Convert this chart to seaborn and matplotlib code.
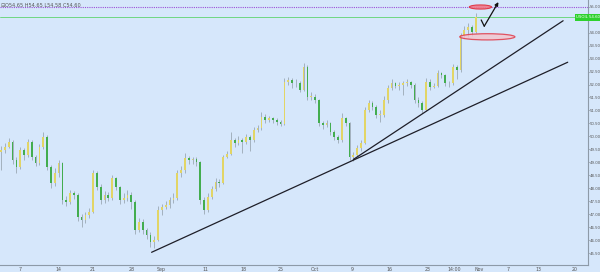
import numpy as np
import pandas as pd
import matplotlib
matplotlib.use("Agg")
import matplotlib.pyplot as plt
from matplotlib.patches import Ellipse, Rectangle
import seaborn as sns

# ---------------- data ----------------
first_open = 49.40
closes = [49.47, 49.60, 49.79, 49.09, 48.83, 49.47, 49.28, 49.79, 49.22, 48.96,
          49.60, 49.99, 48.83, 48.19, 48.57, 48.96, 47.54, 47.48, 47.80, 47.74,
          46.90, 46.77, 46.97, 47.10, 48.57, 48.06, 47.54, 47.74, 47.61, 48.38,
          48.06, 47.54, 47.61, 47.74, 47.48, 46.39, 46.71, 46.39, 46.20, 45.94,
          46.00, 47.16, 47.29, 47.35, 47.54, 47.61, 48.57, 48.70, 49.15, 49.09,
          49.11, 49.02, 47.54, 47.16, 47.67, 47.99, 48.25, 48.19, 49.22, 49.34,
          49.86, 49.73, 49.86, 49.79, 49.99, 49.86, 50.24, 50.31, 50.76, 50.63,
          50.69, 50.63, 50.57, 50.48, 52.11, 52.17, 52.04, 52.07, 51.79, 52.69,
          51.53, 51.53, 51.40, 50.50, 50.44, 50.50, 50.18, 49.99, 49.86, 50.69,
          50.50, 49.22, 49.28, 49.54, 49.73, 51.02, 51.27, 51.14, 50.82, 50.82,
          51.40, 51.85, 52.04, 51.94, 51.98, 52.04, 52.11, 51.98, 51.40, 51.27,
          51.02, 52.11, 51.92, 51.94, 52.46, 52.37, 52.04, 52.07, 52.69, 52.56,
          53.91, 54.10, 54.23, 54.04, 54.60]
highs = [49.62, 49.75, 49.95, 49.85, 49.20, 49.60, 49.55, 49.90, 49.85, 49.30,
         49.72, 50.18, 50.05, 48.90, 48.80, 49.10, 49.00, 47.70, 47.95, 47.90,
         47.80, 47.00, 47.10, 47.25, 48.70, 48.65, 48.15, 47.90, 47.85, 48.50,
         48.45, 48.10, 47.80, 47.95, 47.85, 47.55, 46.85, 46.80, 46.45, 46.30,
         46.15, 47.30, 47.40, 47.50, 47.65, 47.80, 48.70, 48.85, 49.35, 49.25,
         49.22, 49.20, 49.05, 47.65, 47.80, 48.10, 48.40, 48.35, 49.30, 49.45,
         50.15, 49.95, 50.00, 49.95, 50.10, 50.05, 50.35, 50.45, 50.95, 50.85,
         50.80, 50.75, 50.70, 50.65, 52.25, 52.30, 52.25, 52.20, 52.15, 52.82,
         52.75, 51.70, 51.65, 51.45, 50.60, 50.62, 50.55, 50.25, 50.05, 50.90,
         50.75, 50.55, 49.40, 49.65, 49.85, 51.15, 51.40, 51.35, 51.20, 51.00,
         51.55, 52.00, 52.20, 52.10, 52.10, 52.15, 52.20, 52.15, 52.05, 51.50,
         51.35, 52.25, 52.20, 52.05, 52.55, 52.50, 52.40, 52.15, 52.80, 52.75,
         54.00, 54.25, 54.38, 54.30, 54.75]
lows = [48.70, 49.35, 49.55, 48.95, 48.57, 48.75, 49.10, 49.20, 49.10, 48.85,
        48.90, 49.50, 48.70, 48.00, 48.10, 48.45, 47.40, 47.30, 47.40, 47.60,
        46.75, 46.52, 46.65, 46.85, 47.05, 47.95, 47.40, 47.45, 47.50, 47.55,
        47.95, 47.40, 47.45, 47.50, 47.20, 46.25, 46.30, 46.25, 46.05, 45.75,
        45.70, 45.95, 46.95, 47.20, 47.25, 47.45, 47.55, 48.45, 48.60, 48.95,
        48.95, 48.85, 47.40, 47.00, 47.10, 47.60, 47.90, 48.05, 48.15, 49.15,
        49.30, 49.60, 49.65, 49.35, 49.70, 49.45, 49.80, 50.15, 50.25, 50.50,
        50.55, 50.50, 50.45, 50.40, 50.45, 52.00, 51.85, 51.90, 51.70, 51.75,
        51.40, 51.40, 51.30, 50.40, 50.30, 50.35, 50.05, 49.85, 49.75, 49.80,
        50.40, 49.10, 49.05, 49.20, 49.45, 49.70, 50.95, 51.00, 50.70, 50.55,
        50.75, 51.30, 51.80, 51.85, 51.80, 51.60, 51.95, 51.85, 51.30, 51.15,
        50.90, 50.98, 51.80, 51.85, 51.90, 52.25, 51.95, 51.90, 52.00, 52.20,
        52.50, 53.80, 53.85, 53.88, 53.98]

date_tick_pos = [5.0, 14.9, 24.0, 34.0, 41.8, 53.3, 63.2, 72.9, 82.0, 91.7,
                 101.4, 111.3, 118.4, 124.9, 132.5, 140.3, 149.7]
date_tick_labels = ["7", "14", "21", "28", "Sep", "11", "18", "25", "Oct", "9",
                    "16", "23", "14:00", "Nov", "7", "13", "20"]
price_ticks = [45.5, 46.0, 46.5, 47.0, 47.5, 48.0, 48.5, 49.0, 49.5, 50.0,
               50.5, 51.0, 51.5, 52.0, 52.5, 53.0, 53.5, 54.0, 54.5, 55.0]

trend1_x = [39.3, 148.0]
trend1_y = [45.53, 52.86]
trend2_x = [92.0, 146.8]
trend2_y = [49.11, 54.46]
arrow_x = [125.4, 126.2, 129.9]
arrow_y = [54.49, 54.25, 55.18]
resist_level = 55.00
last_price = 54.60
ohlc_text = "O54.65 H54.65 L54.58 C54.60"
symbol = "USOIL"

# ---------------- style ----------------
BG = "#d6e7fb"
UP = "#e2d566"
DOWN = "#43ad4f"
WICK = "#95a2ad"

sns.set_theme(style="white")
plt.rcParams["font.family"] = ["DejaVu Sans"]

fig = plt.figure(figsize=(6.0, 2.72), dpi=100, facecolor=BG)
ax = fig.add_axes([0.0, 7 / 272, 588 / 600, 265 / 272])
ax.set_facecolor(BG)

opens = [first_open] + closes[:-1]
df = pd.DataFrame({"i": np.arange(len(closes)), "o": opens, "h": highs,
                   "l": lows, "c": closes})
df["up"] = df["c"] >= df["o"]
df["bottom"] = df[["o", "c"]].min(axis=1)
df["height"] = (df["c"] - df["o"]).abs().clip(lower=0.03)

ax.vlines(df["i"], df["l"], df["h"], color=WICK, lw=0.55, zorder=2)
ax.bar(df["i"], df["height"], bottom=df["bottom"], width=0.45,
       color=[UP if u else DOWN for u in df["up"]], linewidth=0, zorder=3)

# horizontal levels
ax.axhline(resist_level, color="#9b4fd6", lw=0.8, ls=(0, (1, 1)), zorder=1)
ax.axhline(last_price, color="#5fd46e", lw=0.6, zorder=1)

# trend lines
tl = pd.DataFrame({"x": trend1_x + trend2_x, "y": trend1_y + trend2_y,
                   "line": ["a", "a", "b", "b"]})
sns.lineplot(data=tl, x="x", y="y", units="line", estimator=None,
             color="#1e1e28", lw=0.9, ax=ax, zorder=4, legend=False)

# ellipses
ax.add_patch(Ellipse((125.2, 54.99), 5.8, 0.16, facecolor="#f07a8a",
                     edgecolor="#e0303f", lw=0.8, alpha=0.9, zorder=5))
ax.add_patch(Ellipse((127.0, 53.84), 14.4, 0.24, facecolor="#f4c4cc",
                     edgecolor="#e0303f", lw=0.9, alpha=0.8, zorder=5))

# arrow
ax.plot(arrow_x[:2], arrow_y[:2], color="#111111", lw=0.9, zorder=6)
ax.annotate("", xy=(arrow_x[2], arrow_y[2]), xytext=(arrow_x[1], arrow_y[1]),
            arrowprops=dict(arrowstyle="-|>", color="#111111", lw=0.9,
                            mutation_scale=5, shrinkA=0, shrinkB=0), zorder=6)

ax.set_xlim(-0.3, 153.3)
ax.set_ylim(45.04, 55.26)

for s in ["top", "left"]:
    ax.spines[s].set_visible(False)
for s in ["right", "bottom"]:
    ax.spines[s].set_color("#8d9aa8")
    ax.spines[s].set_linewidth(0.8)

ax.yaxis.tick_right()
ax.set_yticks(price_ticks)
ax.set_yticklabels([f"{p:.2f}" for p in price_ticks])
ax.set_xticks(date_tick_pos)
ax.set_xticklabels(date_tick_labels)
ax.tick_params(axis="y", labelsize=2.8, colors="#555555", length=1.0,
               width=0.5, pad=0.5)
ax.tick_params(axis="x", labelsize=3.4, colors="#555555", length=0, pad=1.5)
ax.set_xlabel("")
ax.set_ylabel("")

# price tag
fig.patches.append(Rectangle((575 / 600, 1 - 20.5 / 272), 25 / 600, 6 / 272,
                             transform=fig.transFigure, facecolor="#2ed12e",
                             edgecolor="none", zorder=10))
fig.text(576 / 600, 1 - 17.5 / 272, f"{symbol} {last_price:.2f}",
         fontsize=2.8, color="white", va="center", ha="left", zorder=11)

# OHLC header
fig.text(1 / 600, 1 - 5.5 / 272, "⊟", fontsize=3.8, color="#666666",
         va="center", ha="left")
fig.text(5 / 600, 1 - 5.5 / 272, ohlc_text, fontsize=3.6, color="#555555",
         va="center", ha="left")

fig.savefig("out.png", dpi=100, facecolor=BG)
